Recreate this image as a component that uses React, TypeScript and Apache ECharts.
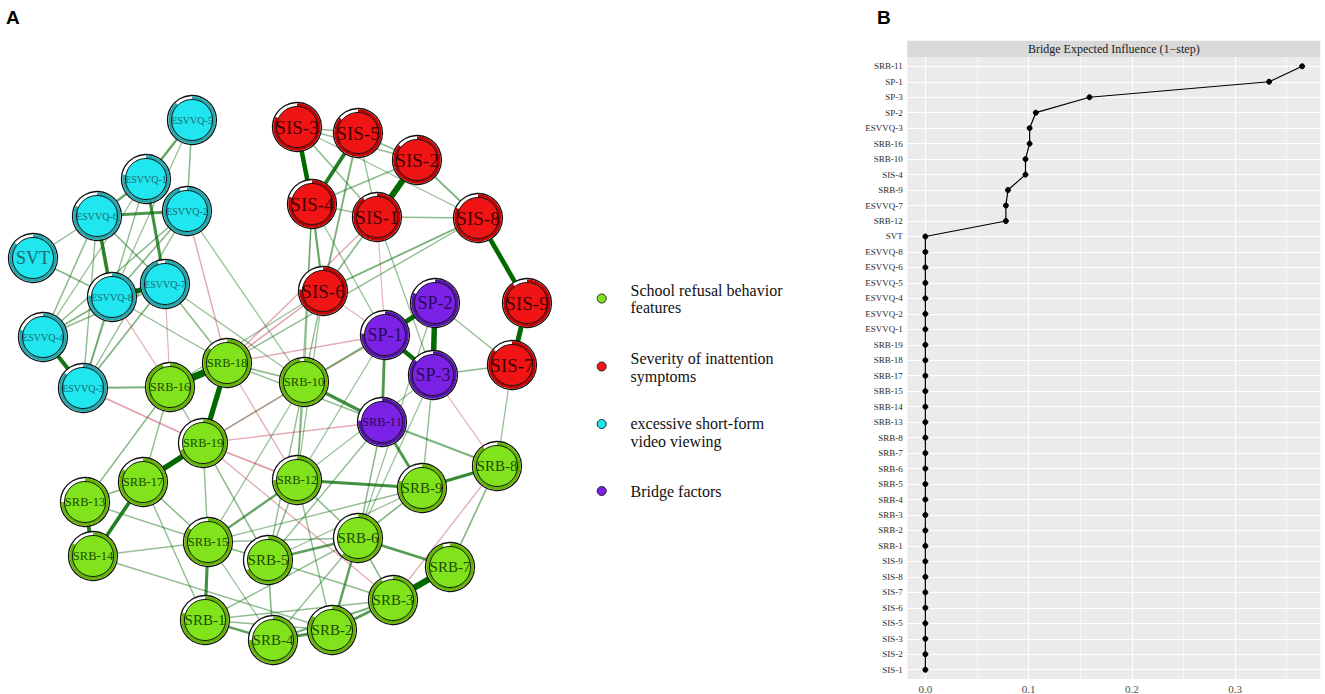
import React, { useEffect, useRef } from "react";
import * as echarts from "echarts";

// ---------- Network (panel A) ----------
const nodeNames = [
  "ESVVQ-5", "ESVVQ-1", "ESVVQ-6", "ESVVQ-2", "SVT", "ESVVQ-8", "ESVVQ-7", "ESVVQ-4", "ESVVQ-3",
  "SIS-3", "SIS-5", "SIS-2", "SIS-4", "SIS-1", "SIS-8", "SIS-6", "SIS-9", "SIS-7",
  "SP-2", "SP-1", "SP-3", "SRB-11",
  "SRB-18", "SRB-16", "SRB-10", "SRB-19", "SRB-17", "SRB-13", "SRB-14", "SRB-12", "SRB-15",
  "SRB-9", "SRB-8", "SRB-6", "SRB-5", "SRB-7", "SRB-3", "SRB-1", "SRB-4", "SRB-2",
];
const nodeX = [
  192, 146, 97, 187, 33, 112, 165, 43, 83,
  297, 358, 417, 312, 377, 478, 323, 527, 512,
  435, 385, 433, 382,
  227, 170, 304, 203, 143, 85, 93, 297, 208,
  422, 497, 358, 268, 450, 393, 205, 273, 332,
];
const nodeY = [
  120, 179, 216, 211, 258, 297, 284, 337, 388,
  127, 133, 160, 204, 217, 218, 291, 303, 365,
  303, 335, 375, 422,
  363, 387, 382, 443, 482, 502, 556, 480, 542,
  488, 466, 538, 560, 567, 600, 620, 640, 630,
];
// 0 = school refusal, 1 = inattention, 2 = short-form video, 3 = bridge
const nodeGroup = [
  2, 2, 2, 2, 2, 2, 2, 2, 2,
  1, 1, 1, 1, 1, 1, 1, 1, 1,
  3, 3, 3, 3,
  0, 0, 0, 0, 0, 0, 0, 0, 0,
  0, 0, 0, 0, 0, 0, 0, 0, 0,
];
const nodePredictability = [
  0.88, 0.78, 0.82, 0.95, 0.86, 0.76, 0.95, 0.8, 0.86,
  0.82, 0.86, 0.86, 0.8, 0.9, 0.82, 0.76, 0.9, 0.86,
  0.82, 0.76, 0.86, 0.76,
  0.86, 0.95, 0.97, 0.7, 0.84, 0.75, 0.84, 0.75, 0.85,
  0.8, 0.9, 0.62, 0.68, 0.95, 0.92, 0.8, 0.75, 0.85,
];

const edges: [string, string, number][] = [
  ["SIS-3", "SIS-4", 0.32], ["SIS-5", "SIS-4", 0.26], ["SIS-2", "SIS-1", 0.45],
  ["SIS-8", "SIS-9", 0.33], ["SIS-9", "SIS-7", 0.36], ["SIS-3", "SIS-5", 0.06],
  ["SIS-3", "SIS-1", 0.07], ["SIS-3", "SIS-2", 0.05], ["SIS-5", "SIS-2", 0.07],
  ["SIS-5", "SIS-1", 0.05], ["SIS-4", "SIS-2", 0.07], ["SIS-4", "SIS-1", 0.05],
  ["SIS-2", "SIS-8", 0.09], ["SIS-1", "SIS-8", 0.07], ["SIS-4", "SIS-6", 0.13],
  ["SIS-5", "SIS-6", 0.1], ["SIS-1", "SIS-6", 0.08], ["SIS-8", "SIS-6", 0.1],
  ["SIS-3", "SIS-8", 0.05],
  ["SP-1", "SP-2", 0.35], ["SP-2", "SP-3", 0.4], ["SP-1", "SP-3", 0.3],
  ["SP-1", "SRB-11", 0.18], ["SP-3", "SIS-7", 0.08], ["SP-2", "SIS-7", 0.06],
  ["SIS-1", "SP-3", 0.05], ["SIS-1", "SP-1", -0.04], ["SIS-4", "SP-1", 0.05],
  ["SIS-6", "SP-1", -0.04],
  ["ESVVQ-8", "ESVVQ-7", 0.38], ["ESVVQ-6", "ESVVQ-8", 0.24], ["ESVVQ-4", "ESVVQ-3", 0.28],
  ["ESVVQ-1", "ESVVQ-7", 0.2], ["ESVVQ-6", "ESVVQ-2", 0.18], ["ESVVQ-1", "ESVVQ-6", 0.14],
  ["ESVVQ-5", "ESVVQ-1", 0.14], ["ESVVQ-5", "ESVVQ-2", 0.07], ["ESVVQ-5", "ESVVQ-8", 0.05],
  ["ESVVQ-2", "ESVVQ-8", 0.08], ["ESVVQ-2", "ESVVQ-4", 0.07], ["ESVVQ-2", "ESVVQ-3", 0.06],
  ["ESVVQ-6", "ESVVQ-4", 0.07], ["ESVVQ-6", "ESVVQ-3", 0.06], ["ESVVQ-6", "ESVVQ-7", 0.08],
  ["ESVVQ-1", "ESVVQ-4", 0.05], ["ESVVQ-1", "ESVVQ-3", 0.06], ["ESVVQ-8", "ESVVQ-4", 0.09],
  ["ESVVQ-8", "ESVVQ-3", 0.06], ["ESVVQ-7", "ESVVQ-4", 0.07], ["ESVVQ-7", "ESVVQ-3", 0.09],
  ["SVT", "ESVVQ-6", 0.06], ["SVT", "ESVVQ-8", 0.08],
  ["ESVVQ-3", "SRB-16", 0.1], ["ESVVQ-3", "SRB-19", -0.08], ["ESVVQ-2", "SRB-18", -0.06],
  ["ESVVQ-2", "SRB-10", 0.05], ["ESVVQ-7", "SRB-18", 0.07], ["ESVVQ-8", "SRB-18", 0.06],
  ["ESVVQ-8", "SRB-16", -0.05], ["ESVVQ-7", "SRB-16", -0.04], ["ESVVQ-7", "SRB-10", 0.05],
  ["SRB-16", "SRB-18", 0.55], ["SRB-18", "SRB-19", 0.38], ["SRB-19", "SRB-17", 0.4],
  ["SRB-17", "SRB-14", 0.25], ["SRB-13", "SRB-14", 0.26], ["SRB-13", "SRB-17", 0.08],
  ["SRB-12", "SRB-9", 0.2], ["SRB-9", "SRB-8", 0.22], ["SRB-7", "SRB-3", 0.45],
  ["SRB-6", "SRB-7", 0.17], ["SRB-5", "SRB-6", 0.15], ["SRB-6", "SRB-2", 0.15],
  ["SRB-2", "SRB-3", 0.17], ["SRB-4", "SRB-3", 0.1], ["SRB-4", "SRB-2", 0.18],
  ["SRB-1", "SRB-4", 0.15], ["SRB-15", "SRB-1", 0.2], ["SRB-12", "SRB-15", 0.14],
  ["SRB-10", "SRB-11", 0.2], ["SRB-11", "SRB-9", 0.18], ["SRB-11", "SRB-8", 0.1],
  ["SRB-12", "SRB-19", -0.09], ["SRB-18", "SRB-10", 0.07], ["SRB-18", "SRB-12", -0.05],
  ["SRB-18", "SRB-11", 0.06], ["SRB-18", "SP-1", -0.05], ["SRB-16", "SRB-17", 0.06],
  ["SRB-16", "SRB-19", 0.06], ["SRB-16", "SRB-13", 0.07], ["SRB-19", "SRB-15", 0.06],
  ["SRB-19", "SRB-5", 0.07], ["SRB-19", "SRB-11", -0.05], ["SRB-19", "SRB-10", 0.05],
  ["SRB-17", "SRB-15", 0.07], ["SRB-17", "SRB-1", 0.06], ["SRB-13", "SRB-15", 0.06],
  ["SRB-14", "SRB-2", 0.06], ["SRB-14", "SRB-15", 0.05], ["SRB-12", "SRB-5", 0.07],
  ["SRB-12", "SRB-2", 0.06], ["SRB-12", "SRB-6", 0.07], ["SRB-12", "SRB-10", 0.06],
  ["SRB-10", "SRB-5", 0.06], ["SRB-10", "SRB-15", 0.05], ["SRB-11", "SRB-6", 0.07],
  ["SRB-11", "SRB-5", 0.06], ["SRB-9", "SRB-6", 0.08], ["SRB-9", "SRB-15", 0.06],
  ["SRB-9", "SRB-5", 0.05], ["SRB-8", "SRB-7", 0.08], ["SRB-8", "SRB-3", -0.05],
  ["SRB-6", "SRB-3", 0.07], ["SRB-6", "SRB-1", 0.06], ["SRB-5", "SRB-4", 0.08],
  ["SRB-5", "SRB-3", 0.06], ["SRB-15", "SRB-5", 0.07], ["SRB-15", "SRB-4", 0.05],
  ["SRB-15", "SRB-6", 0.06], ["SRB-1", "SRB-2", 0.07], ["SRB-1", "SRB-3", 0.06],
  ["SRB-4", "SRB-6", 0.06], ["SRB-19", "SRB-3", -0.05],
  ["SIS-6", "SRB-18", -0.07], ["SIS-1", "SRB-18", -0.06], ["SIS-6", "SRB-16", 0.05],
  ["SIS-6", "SRB-12", 0.05], ["SIS-6", "SRB-10", 0.06], ["SIS-4", "SRB-12", 0.05],
  ["SIS-4", "SRB-10", 0.05], ["SIS-8", "SRB-18", 0.06], ["SIS-7", "SRB-8", 0.05],
  ["SP-3", "SRB-8", -0.05], ["SP-3", "SRB-9", 0.06], ["SP-3", "SRB-12", 0.05],
  ["SP-1", "SRB-10", 0.06], ["SP-1", "SRB-12", 0.05], ["SP-1", "SRB-19", -0.05],
  ["SP-2", "SRB-6", 0.05], ["SP-3", "SRB-6", 0.05], ["SP-2", "SRB-10", 0.05],
];

const legendLines: string[][] = [
  ["School refusal behavior", "features"],
  ["Severity of inattention", "symptoms"],
  ["excessive short-form", "video viewing"],
  ["Bridge factors"],
];

const groupFill = ["#80e31c", "#f01414", "#20e6ef", "#7b22e6"];
const groupRing = ["#63b500", "#c40000", "#22a8ae", "#5512b0"];
const groupText = ["#1f4a00", "#450000", "#1b6a72", "#2a0a5a"];

// ---------- Bridge expected influence (panel B) ----------
const beiNodes = [
  "SRB-11", "SP-1", "SP-3", "SP-2", "ESVVQ-3", "SRB-16", "SRB-10", "SIS-4", "SRB-9", "ESVVQ-7",
  "SRB-12", "SVT", "ESVVQ-8", "ESVVQ-6", "ESVVQ-5", "ESVVQ-4", "ESVVQ-2", "ESVVQ-1", "SRB-19", "SRB-18",
  "SRB-17", "SRB-15", "SRB-14", "SRB-13", "SRB-8", "SRB-7", "SRB-6", "SRB-5", "SRB-4", "SRB-3",
  "SRB-2", "SRB-1", "SIS-9", "SIS-8", "SIS-7", "SIS-6", "SIS-5", "SIS-3", "SIS-2", "SIS-1",
];
const beiValues = [
  0.365, 0.333, 0.159, 0.107, 0.101, 0.101, 0.097, 0.097, 0.080, 0.078,
  0.078, 0, 0, 0, 0, 0, 0, 0, 0, 0,
  0, 0, 0, 0, 0, 0, 0, 0, 0, 0,
  0, 0, 0, 0, 0, 0, 0, 0, 0, 0,
];
const beiTicks = [0, 0.1, 0.2, 0.3];
const beiMinorTicks = [0.05, 0.15, 0.25, 0.35];

const SERIF = "'Liberation Serif', 'DejaVu Serif', serif";

function labelSize(name: string): number {
  if (name.startsWith("ESVVQ")) return 10;
  if (name === "SVT") return 18;
  if (name.startsWith("SIS")) return 19;
  if (name.startsWith("SP")) return 18;
  if (/^SRB-\d\d$/.test(name)) return 12.5;
  return 15;
}

export default function App() {
  const ref = useRef<HTMLDivElement>(null);

  useEffect(() => {
    document.body.style.margin = "0";
    if (!ref.current) return;
    const chart = echarts.init(ref.current, undefined, { renderer: "svg" });

    const idx: Record<string, number> = {};
    nodeNames.forEach((n, i) => (idx[n] = i));

    const sortedEdges = edges.slice().sort((a, b) => Math.abs(a[2]) - Math.abs(b[2]));
    const edgeData = sortedEdges.map(([a, b, w]) => {
      const ia = idx[a];
      const ib = idx[b];
      const aw = Math.abs(w);
      const alpha = Math.min(1, 0.3 + aw * 2.2);
      const color = w >= 0 ? `rgba(0,105,0,${alpha})` : `rgba(185,30,55,${alpha * 0.9})`;
      return {
        coords: [
          [nodeX[ia], nodeY[ia]],
          [nodeX[ib], nodeY[ib]],
        ],
        lineStyle: { width: 0.7 + aw * 12, color, opacity: 1 },
      };
    });

    const yIdx = beiNodes.map((_, i) => i);

    const graphic: any[] = [
      {
        type: "text",
        left: 6,
        top: 8,
        style: { text: "A", font: "bold 19px 'Liberation Sans', Arial, sans-serif", fill: "#000" },
      },
      {
        type: "text",
        left: 877,
        top: 8,
        style: { text: "B", font: "bold 19px 'Liberation Sans', Arial, sans-serif", fill: "#000" },
      },
      {
        type: "rect",
        shape: { x: 907.3, y: 40.7, width: 413, height: 16.3 },
        style: { fill: "#D9D9D9" },
      },
      {
        type: "text",
        x: 1113.8,
        y: 49,
        style: {
          text: "Bridge Expected Influence (1\u2212step)",
          fontFamily: SERIF,
          fontSize: 12,
          fill: "#1A1A1A",
          align: "center",
          verticalAlign: "middle",
        },
      },
    ];

    const legendKeyY = [298.5, 366.5, 424, 491];
    const legendLineY = [
      [290.7, 307.5],
      [358.3, 376],
      [423.3, 441],
      [491.7],
    ];
    legendLines.forEach((lines, g) => {
      graphic.push({
        type: "circle",
        shape: { cx: 601.7, cy: legendKeyY[g], r: 4.5 },
        style: { fill: groupFill[g], stroke: "#222", lineWidth: 1 },
      });
      lines.forEach((t, k) => {
        graphic.push({
          type: "text",
          x: 630.5,
          y: legendLineY[g][k],
          style: {
            text: t,
            fontFamily: SERIF,
            fontSize: 16,
            fill: "#111",
            align: "left",
            verticalAlign: "middle",
          },
        });
      });
    });

    const option: any = {
      animation: false,
      textStyle: { fontFamily: SERIF },
      grid: [
        { left: 0, top: 0, width: 600, height: 694, show: false },
        {
          left: 907.3,
          top: 57,
          width: 413,
          height: 622.3,
          show: true,
          backgroundColor: "#EBEBEB",
          borderWidth: 0,
        },
      ],
      xAxis: [
        { gridIndex: 0, type: "value", min: 0, max: 600, show: false },
        {
          gridIndex: 1,
          type: "value",
          min: -0.0175,
          max: 0.3826,
          axisLine: { show: false },
          splitLine: { show: false },
          axisTick: { show: true, customValues: beiTicks, length: 2.7, lineStyle: { color: "#333" } },
          axisLabel: {
            customValues: beiTicks,
            formatter: (v: number) => v.toFixed(1),
            color: "#4D4D4D",
            fontSize: 11,
            fontFamily: SERIF,
            margin: 4,
          },
        },
      ],
      yAxis: [
        { gridIndex: 0, type: "value", min: 0, max: 694, inverse: true, show: false },
        {
          gridIndex: 1,
          type: "value",
          min: -0.6,
          max: 39.6,
          inverse: true,
          axisLine: { show: false },
          splitLine: { show: false },
          axisTick: { show: true, customValues: yIdx, length: 2.7, lineStyle: { color: "#333" } },
          axisLabel: {
            customValues: yIdx,
            formatter: (v: number) => beiNodes[Math.round(v)] ?? "",
            color: "#2b2b2b",
            fontSize: 9,
            fontFamily: SERIF,
            margin: 4.5,
          },
        },
      ],
      graphic,
      series: [
        {
          type: "lines",
          coordinateSystem: "cartesian2d",
          xAxisIndex: 0,
          yAxisIndex: 0,
          silent: true,
          z: 1,
          data: edgeData,
        },
        {
          type: "custom",
          coordinateSystem: "cartesian2d",
          xAxisIndex: 0,
          yAxisIndex: 0,
          silent: true,
          clip: false,
          z: 3,
          data: nodeNames.map((_, i) => [nodeX[i], nodeY[i]]),
          encode: { x: 0, y: 1 },
          renderItem: (params: any, api: any) => {
            const i = params.dataIndex;
            const c = api.coord([api.value(0), api.value(1)]);
            const g = nodeGroup[i];
            const p = nodePredictability[i];
            const R = 24.5;
            const r = 20.5;
            const start = -Math.PI / 2;
            return {
              type: "group",
              children: [
                {
                  type: "circle",
                  shape: { cx: c[0], cy: c[1], r: R },
                  style: { fill: "#ffffff", stroke: "#111", lineWidth: 1.3 },
                },
                {
                  type: "sector",
                  shape: {
                    cx: c[0],
                    cy: c[1],
                    r0: r,
                    r: R - 0.7,
                    startAngle: start,
                    endAngle: start + 2 * Math.PI * p,
                    clockwise: true,
                  },
                  style: { fill: groupRing[g] },
                },
                {
                  type: "circle",
                  shape: { cx: c[0], cy: c[1], r },
                  style: { fill: groupFill[g], stroke: "#111", lineWidth: 1 },
                },
                {
                  type: "text",
                  style: {
                    text: nodeNames[i],
                    x: c[0],
                    y: c[1],
                    align: "center",
                    verticalAlign: "middle",
                    fontFamily: SERIF,
                    fontSize: labelSize(nodeNames[i]),
                    fill: groupText[g],
                  },
                },
              ],
            };
          },
        },
        {
          type: "line",
          xAxisIndex: 1,
          yAxisIndex: 1,
          silent: true,
          z: 1,
          data: [],
          markLine: {
            z: 1,
            silent: true,
            symbol: ["none", "none"],
            label: { show: false },
            animation: false,
            data: [
              ...beiMinorTicks.map((v) => ({ xAxis: v, lineStyle: { color: "#ffffff", width: 0.6, type: "solid" } })),
              ...beiTicks.map((v) => ({ xAxis: v, lineStyle: { color: "#ffffff", width: 1.2, type: "solid" } })),
              ...yIdx.map((v) => ({ yAxis: v, lineStyle: { color: "#ffffff", width: 1.2, type: "solid" } })),
            ],
          },
        },
        {
          type: "line",
          xAxisIndex: 1,
          yAxisIndex: 1,
          silent: true,
          z: 4,
          zlevel: 0,
          data: beiValues.map((v, i) => [v, i]),
          symbol: "circle",
          symbolSize: 5,
          itemStyle: { color: "#000", borderColor: "#000" },
          lineStyle: { color: "#000", width: 1.2 },
        },
      ],
    };

    chart.setOption(option);
    return () => chart.dispose();
  }, []);

  return <div ref={ref} style={{ width: 1325, height: 694 }} />;
}
